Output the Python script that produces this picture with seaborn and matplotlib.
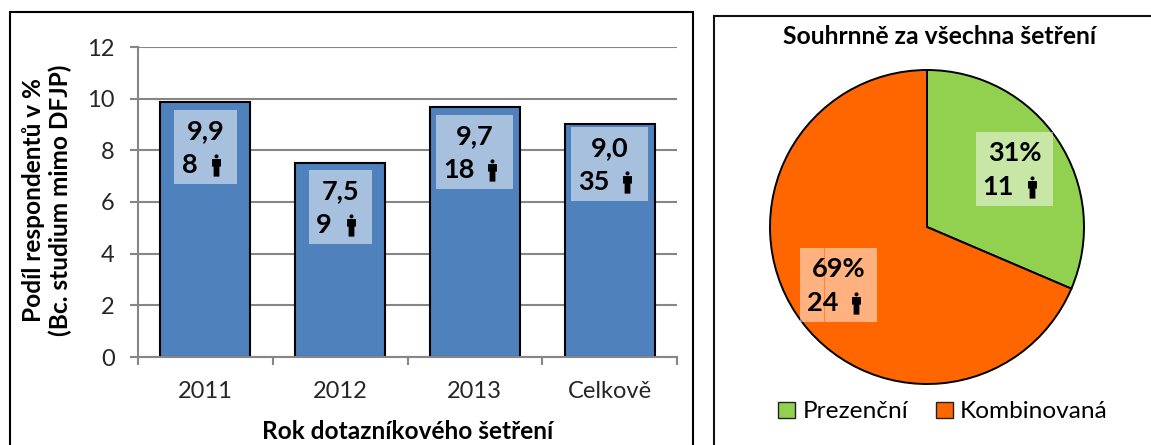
import matplotlib
matplotlib.use("Agg")
import matplotlib.pyplot as plt
import seaborn as sns
import pandas as pd
from matplotlib.patches import Rectangle, Patch
from matplotlib.path import Path

years = ["2011", "2012", "2013", "Celkově"]
shares = [9.87, 7.5, 9.67, 9.03]
share_labels = ["9,9", "7,5", "9,7", "9,0"]
counts = [8, 9, 18, 35]
study_forms = ["Prezenční", "Kombinovaná"]
form_counts = [11, 24]
form_labels = ["31%", "69%"]

W, H = 1151, 445
sns.set_theme(style="white")
plt.rcParams["font.family"] = ["Lato", "DejaVu Sans"]
plt.rcParams["text.color"] = "black"
TXT = 17
BOLD = 17.6
CALL = 19.5
GRAY = "#868686"

fig = plt.figure(figsize=(W / 100, H / 100), dpi=100, facecolor="white")


def frac_box(left, top, right, bottom):
    return [left / W, 1 - bottom / H, (right - left) / W, (bottom - top) / H]


# overlay in pixel coordinates for frames and callouts
ov = fig.add_axes([0, 0, 1, 1], zorder=5)
ov.set_xlim(0, W)
ov.set_ylim(H, 0)
ov.axis("off")

for pts, col in [(((10.5, 450), (10.5, 12), (693.5, 12), (693.5, 450)), "#000000"),
                 (((714.5, 450), (714.5, 15.5), (1160, 15.5)), "#111111")]:
    ov.plot(*zip(*pts), color=col, lw=1.5, solid_joinstyle="miter", clip_on=False)

# bar chart
ax = fig.add_axes(frac_box(138, 47, 677, 357))
df = pd.DataFrame({"year": years, "share": shares})
sns.barplot(data=df, x="year", y="share", ax=ax, color="#4F81BD", saturation=1,
            width=0.668, edgecolor="black", linewidth=1.5, zorder=3)
ax.set_ylim(0, 12)
ax.set_xlim(-0.5, 3.5)
ax.set_yticks(range(0, 13, 2))
ax.yaxis.grid(True, color=GRAY, lw=1.5, zorder=0)
ax.xaxis.grid(False)
ax.set_axisbelow(True)
for s in ["top", "right"]:
    ax.spines[s].set_visible(False)
for s in ["left", "bottom"]:
    ax.spines[s].set_color(GRAY)
    ax.spines[s].set_linewidth(1.5)
ax.spines["bottom"].set_zorder(4)
ax.tick_params(axis="y", length=5.8, width=1.5, color=GRAY, labelsize=TXT, pad=11, left=True)
ax.tick_params(axis="x", which="major", length=0, labelsize=TXT, pad=17, bottom=False)
ax.set_xticks([-0.5, 0.5, 1.5, 2.5, 3.5], minor=True)
ax.tick_params(axis="x", which="minor", length=5.8, width=1.5, color=GRAY, bottom=True)
ax.set_xlabel("")
ax.set_ylabel("")
ov.text(408, 431.5, "Rok dotazníkového šetření", ha="center", va="center",
        fontsize=BOLD, fontweight="bold")
ov.text(47, 200, "Podíl respondentů v %\n(Bc. studium mimo DFJP)", ha="center", va="center",
        rotation=90, fontsize=BOLD, fontweight="bold", linespacing=1.2, multialignment="center")

# pie
pax = fig.add_axes(frac_box(770, 70, 1084, 384))
wedges, _ = pax.pie(form_counts, colors=["#92D050", "#FF6600"], startangle=90, counterclock=False,
                    radius=1, wedgeprops=dict(edgecolor="black", linewidth=1.4))
pax.set_xlim(-1, 1)
pax.set_ylim(-1, 1)
for w in wedges:
    w.set_clip_on(False)
ov.text(940, 37, "Souhrnně za všechna šetření", ha="center", va="center",
        fontsize=BOLD + 0.2, fontweight="bold")
leg_h = [Patch(facecolor=w.get_facecolor(), edgecolor="#222222", linewidth=1) for w in wedges]
fig.legend(leg_h, study_forms, ncol=2, frameon=False, fontsize=TXT + 0.6,
           loc="center", bbox_to_anchor=(943 / W, 1 - 412 / H),
           handlelength=0.68, handleheight=0.68, handletextpad=0.3, columnspacing=1.15,
           borderpad=0, borderaxespad=0)

# person icon, in marker units
person_body = Path(
    [(-0.40, 0.58), (0.40, 0.58), (0.40, -0.10), (0.26, -0.10), (0.26, -1.0),
     (-0.26, -1.0), (-0.26, -0.10), (-0.40, -0.10), (-0.40, 0.58)],
    [Path.MOVETO] + [Path.LINETO] * 7 + [Path.CLOSEPOLY])
person = Path.make_compound_path(Path.circle((0, 0.82), 0.18), person_body)


def callout(cx, top, w, top_label, count):
    ov.add_patch(Rectangle((cx - w / 2, top), w, 74, facecolor="white", alpha=0.5, lw=0))
    ov.text(cx, top + 21, top_label, ha="center", va="center", fontsize=CALL, fontweight="bold")
    ov.text(cx - 16, top + 55, str(count), ha="center", va="center", fontsize=CALL, fontweight="bold")
    ov.plot([cx + w / 2 - 21], [top + 55], marker=person, ms=16, color="black", mew=0, ls="none")


box_drop = [8, 7, 8, 3]
box_w = [63, 63, 77, 77]
for i, (lab, n) in enumerate(zip(share_labels, counts)):
    x_px, y_px = ax.transData.transform((i, shares[i]))
    callout(x_px, H - y_px + box_drop[i], box_w[i], lab, n)

callout(1014.5, 132, 77, form_labels[0], form_counts[0])
callout(838.5, 248, 77, form_labels[1], form_counts[1])
ov.plot([824.5, 824.5], [248, 322], color="#FF6600", lw=0.7, alpha=0.6)

fig.savefig("out.png", dpi=100)
